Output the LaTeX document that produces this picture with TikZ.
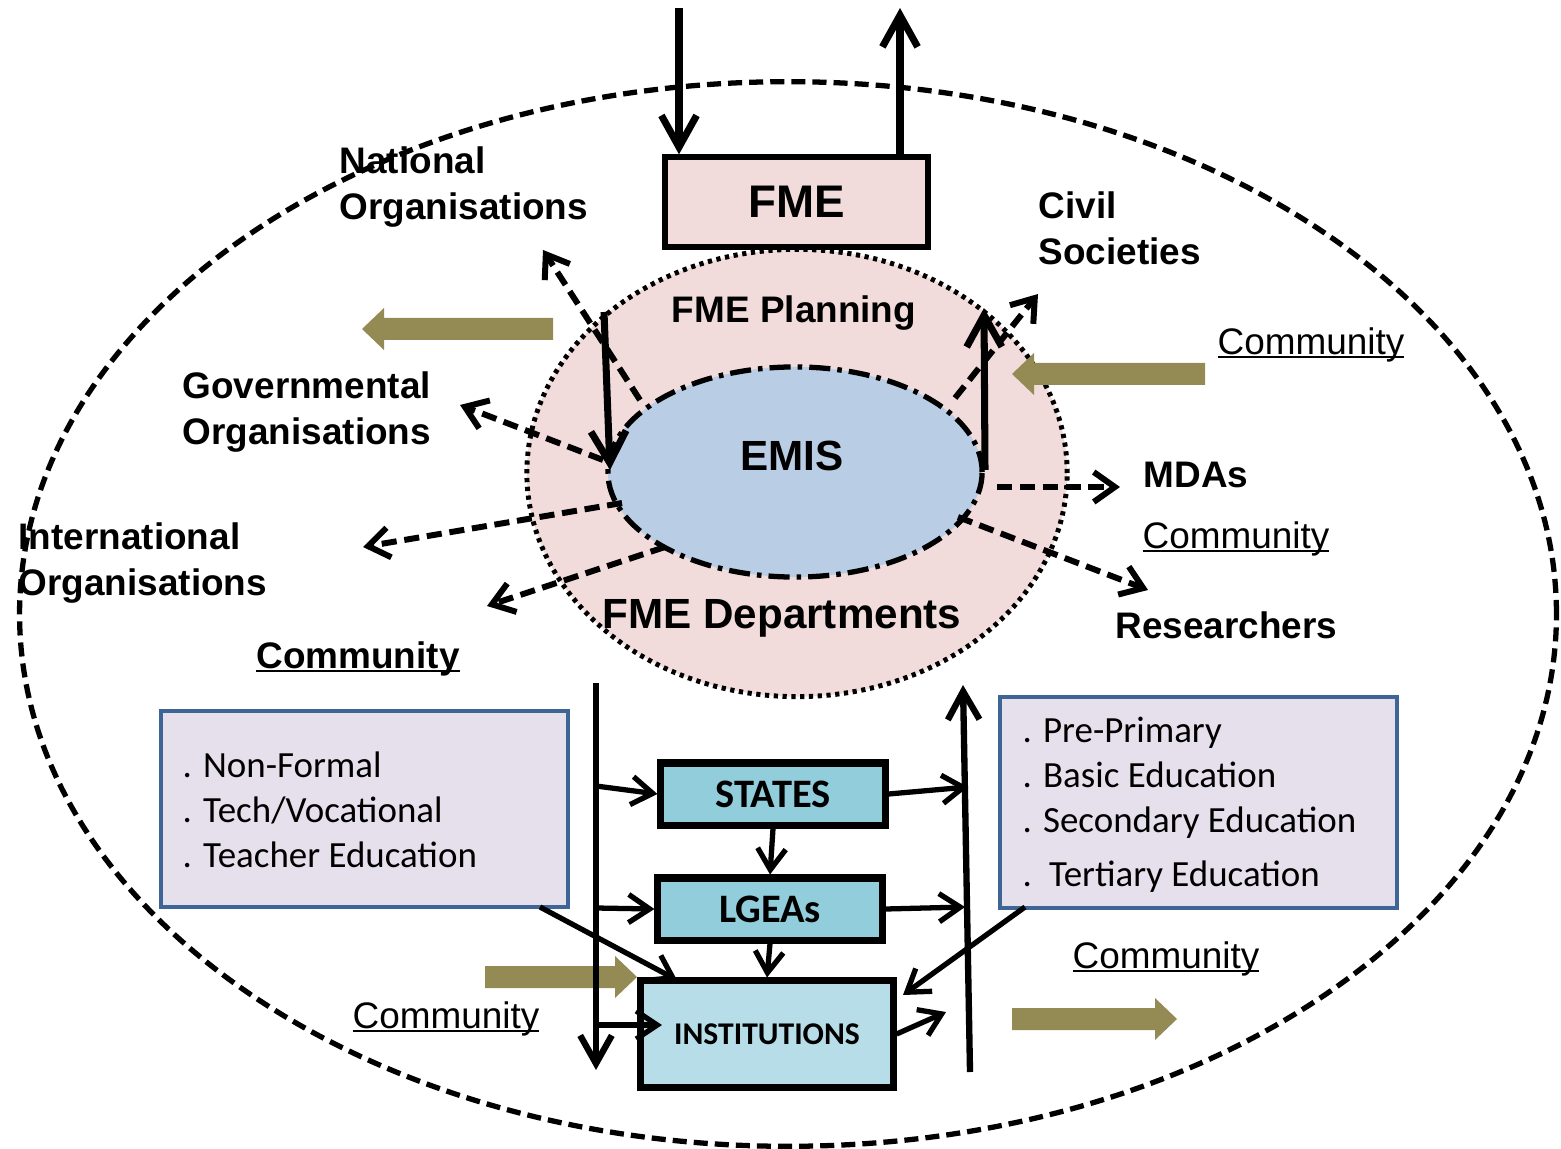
\documentclass[tikz,border=0pt]{standalone}
\usepackage{fontspec}
\setmainfont{Liberation Sans}
\newfontfamily\calibri{Carlito}
\usetikzlibrary{arrows.meta,shapes.geometric}
\definecolor{pinkf}{HTML}{F2DCDB}
\definecolor{bluef}{HTML}{B9CDE5}
\definecolor{olivef}{HTML}{948A54}
\definecolor{lavf}{HTML}{E5E0EC}
\definecolor{boxb}{HTML}{3F6597}
\definecolor{statef}{HTML}{92CDDC}
\definecolor{instf}{HTML}{B7DEE8}
\newcommand\myul[1]{\setbox0=\hbox{#1}\rlap{\rule[-0.12em]{\wd0}{0.07em}}\box0}
\begin{document}
\begin{tikzpicture}[x=0.01cm,y=-0.01cm,
  lbl/.style={font=\bfseries\fontsize{10.5}{13}\selectfont, align=left, inner sep=0pt},
  title/.style={font=\bfseries\fontsize{#1}{#1}\selectfont, inner sep=0pt},
  comm/.style={font=\fontsize{10.5}{12}\selectfont, inner sep=0pt, anchor=base},
  boxtxt/.style={font=\calibri\fontsize{10.5}{12}\selectfont, inner sep=0pt, anchor=base west},
  tier/.style={draw, line width=2pt, inner sep=0pt, font=\calibri\bfseries\fontsize{11.5}{12}\selectfont},
  listbox/.style={draw=boxb, fill=lavf, line width=1.3pt, inner sep=0pt},
  bigarr/.style={line width=2pt, -{Straight Barb[length=9pt,width=10pt]}},
  vertarr/.style={line width=1.8pt, -{Straight Barb[length=8pt,width=9pt]}},
  smallarr/.style={line width=1.5pt, -{Straight Barb[length=6pt,width=8pt]}},
  dasharr/.style={line width=1.7pt, dash pattern=on 4.3pt off 2.2pt, -{Straight Barb[length=6pt,width=8.5pt]}},
  olive/.style={fill=olivef}
]
\useasboundingbox (0,0) rectangle (1561,1149);
% ellipses
\node[ellipse, draw, line width=1.5pt, dash pattern=on 4pt off 2pt, minimum width=15.36cm, minimum height=10.64cm, inner sep=0pt] (outer) at (788,614) {};
\node[ellipse, draw, fill=pinkf, line width=1.4pt, dash pattern=on 1.2pt off 1.3pt, minimum width=5.4cm, minimum height=4.47cm, inner sep=0pt] (plan) at (797,473) {};
\node[ellipse, draw, fill=bluef, line width=1.5pt, dash pattern=on 6pt off 2pt on 1.3pt off 2pt, minimum width=3.74cm, minimum height=2.10cm, inner sep=0pt] (emis) at (795,472) {};
% FME box
\node[draw, fill=pinkf, line width=1.5pt, minimum width=2.63cm, minimum height=0.90cm, inner sep=0pt, font=\bfseries\fontsize{13}{13}\selectfont] (fme) at (796.5,202) {FME};
% inner titles
\node[title=10.5, anchor=base] (planning) at (794,323) {FME Planning};
\node[title=12, anchor=base] (emist) at (792,470) {EMIS};
\node[title=12, anchor=base] (depts) at (782,628) {FME Departments};
% outside labels
\node[lbl, anchor=north west] (natl) at (339,146) {National\\Organisations};
\node[lbl, anchor=north west] (civil) at (1038,191) {Civil\\Societies};
\node[lbl, anchor=north west] (gov) at (182,371) {Governmental\\Organisations};
\node[lbl, anchor=north west] (intl) at (18,522) {International\\Organisations};
\node[lbl, anchor=west] (mdas) at (1143,475) {MDAs};
\node[lbl, anchor=west] (res) at (1115,625) {Researchers};
% community labels
\node[comm] (c1) at (1311,354) {\myul{Community}};
\node[comm] (c2) at (1236,548) {\myul{Community}};
\node[comm] (c3) at (1166,968) {\myul{Community}};
\node[comm] (c4) at (446,1028) {\myul{Community}};
\node[comm, font=\bfseries\fontsize{10.5}{12}\selectfont] (c5) at (358,668) {\myul{Community}};
% olive block arrows
\fill[olive] (553,318) -- (384,318) -- (384,308) -- (362,329) -- (384,350) -- (384,340) -- (553,340) -- cycle;
\fill[olive] (1205,363) -- (1034,363) -- (1034,353) -- (1012,374) -- (1034,395) -- (1034,385) -- (1205,385) -- cycle;
\fill[olive] (485,966) -- (615,966) -- (615,956) -- (637,977) -- (615,998) -- (615,988) -- (485,988) -- cycle;
\fill[olive] (1012,1008) -- (1155,1008) -- (1155,998) -- (1177,1019) -- (1155,1040) -- (1155,1030) -- (1012,1030) -- cycle;
% top arrows
\coordinate (topin) at (679,8);
\coordinate (topout) at (900,8);
\draw[bigarr] (topin) -- (fme.north -| topin);
\draw[bigarr] (fme.north -| topout) -- (topout);
% solid arrows at EMIS
\coordinate (pl1) at (604,312); \coordinate (pl2) at (610,470);
\coordinate (pr1) at (985,470); \coordinate (pr2) at (984,308);
\draw[bigarr] (pl1) -- (pl2);
\draw[bigarr] (pr1) -- (pr2);
% dashed arrows
\coordinate (natS) at (640,400); \coordinate (natT) at (543,250);
\coordinate (govS) at (603,460); \coordinate (govT) at (460,405);
\coordinate (intS) at (622,503); \coordinate (intT) at (363,547);
\coordinate (comS) at (665,547); \coordinate (comT) at (487,606);
\coordinate (civS) at (955,398); \coordinate (civT) at (1038,294);
\coordinate (mdaS) at (997,487); \coordinate (mdaT) at (1120,487);
\coordinate (resS) at (958,517); \coordinate (resT) at (1148,590);
\draw[dasharr] (natS) -- (natT);
\draw[dasharr] (govS) -- (govT);
\draw[dasharr] (intS) -- (intT);
\draw[dasharr] (comS) -- (comT);
\draw[dasharr] (civS) -- (civT);
\draw[dasharr] (mdaS) -- (mdaT);
\draw[dasharr] (resS) -- (resT);
% list boxes
\node[listbox, minimum width=4.07cm, minimum height=1.96cm] (lbox) at (364.5,809) {};
\node[boxtxt] (l1) at (182,777) {. Non-Formal};
\node[boxtxt] (l2) at (182,822) {. Tech/Vocational};
\node[boxtxt] (l3) at (182,867) {. Teacher Education};
\node[listbox, minimum width=3.97cm, minimum height=2.11cm] (rbox) at (1198.5,802.5) {};
\node[boxtxt] (r1) at (1022,742) {. Pre-Primary};
\node[boxtxt] (r2) at (1022,787) {. Basic Education};
\node[boxtxt] (r3) at (1022,832) {. Secondary Education};
\node[boxtxt] (r4) at (1022,886) {. \hspace{0.16em}Tertiary Education};
% tiers
\node[tier, fill=statef, minimum width=2.24cm, minimum height=0.62cm] (states) at (773,794) {STATES};
\node[tier, fill=statef, minimum width=2.24cm, minimum height=0.62cm] (lgeas) at (770,909) {LGEAs};
\node[tier, fill=instf, minimum width=2.52cm, minimum height=1.06cm, font=\calibri\bfseries\fontsize{9}{10}\selectfont] (inst) at (767,1034) {INSTITUTIONS};
% vertical lines
\coordinate (vl1) at (596,683); \coordinate (vl2) at (596,1070);
\coordinate (vr1) at (970,1072); \coordinate (vr2) at (963,685);
\draw[vertarr] (vl1) -- (vl2);
\draw[vertarr] (vr1) -- (vr2);
% tier arrows
\coordinate (sIn) at (596,786); \coordinate (sOut) at (968,787);
\coordinate (gIn) at (596,908); \coordinate (gOut) at (965,907);
\coordinate (iIn) at (596,1025); \coordinate (iInT) at (662,1025);
\coordinate (iOut) at (946,1012);
\coordinate (lbA) at (540,907); \coordinate (lbT) at (677,980);
\coordinate (rbA) at (1025,907); \coordinate (rbT) at (903,995);
\draw[smallarr] (sIn) -- (states.west);
\draw[smallarr] (states.east) -- (sOut);
\draw[smallarr] (gIn) -- (lgeas.west);
\draw[smallarr] (lgeas.east) -- (gOut);
\draw[smallarr] (states.south) -- (lgeas.north);
\draw[smallarr] (lgeas.south) -- (inst.north);
\draw[smallarr] (iIn) -- (iInT);
\draw[smallarr] (inst.east) -- (iOut);
\draw[smallarr] (lbA) -- (lbT);
\draw[smallarr] (rbA) -- (rbT);
\end{tikzpicture}
\end{document}
